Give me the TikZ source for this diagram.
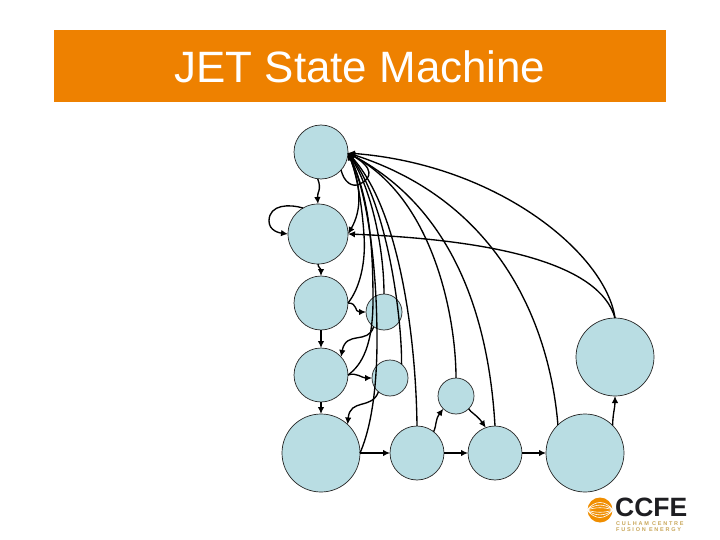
\documentclass[tikz,border=0pt]{standalone}
\usepackage{fontspec}
\setmainfont{Liberation Sans}
\usetikzlibrary{arrows.meta}
\definecolor{barorange}{HTML}{EE8100}
\definecolor{statefill}{HTML}{B9DDE3}
\definecolor{logotext}{HTML}{C9A75A}
\definecolor{logoink}{HTML}{1E1E22}
\tikzset{
  state/.style={circle,draw=black!85,fill=statefill,line width=0.7pt,inner sep=0pt,outer sep=0pt,minimum size=#1},
  edge/.style={draw=black,line width=1.35pt,-{Latex[length=7pt,width=6.5pt]}}
}
\begin{document}
\begin{tikzpicture}[x=1pt,y=-1pt]
\useasboundingbox (0,0) rectangle (720,540);
\fill[white] (0,0) rectangle (720,540);
\node[fill=barorange,minimum width=612pt,minimum height=72pt,inner sep=0pt,outer sep=0pt] (bar) at (360,66) {};
\node[text=white,font=\fontsize{43.9pt}{48pt}\selectfont,inner sep=0pt] (title) at (360,67) {JET State Machine};

\coordinate (hub) at (348,153);
\node[state=54pt] (A) at (321,152) {};
\node[state=60pt] (B) at (318,234) {};
\node[state=54pt] (C) at (321,303) {};
\node[state=54pt] (D) at (321,375) {};
\node[state=78pt] (E) at (321,453) {};
\node[state=36pt] (F) at (384,312) {};
\node[state=36pt] (G) at (390,378) {};
\node[state=36pt] (H) at (456,396) {};
\node[state=54pt] (I) at (417,453) {};
\node[state=54pt] (J) at (495,453) {};
\node[state=78pt] (K) at (585,453) {};
\node[state=78pt] (L) at (615,357) {};

% chain
\draw[edge] (A.-97) .. controls (322,190) and (317,192) .. (B.north);
\draw[edge] (B.south) .. controls (318,268) and (321,268) .. (C.north);
\draw[edge] (C.south) -- (D.north);
\draw[edge] (D.south) -- (E.north);
\draw[edge] (E.east) -- (I.west);
\draw[edge] (I.east) -- (J.west);
\draw[edge] (J.east) -- (K.west);
\draw[edge] (K.45) .. controls (613,412) and (615,408) .. (L.south);

% self loops
\draw[edge] (B.120) .. controls (290,204) and (269,204) .. (269,221) .. controls (269,231) and (280,233) .. (B.west);
\draw[edge] (A.-42) .. controls (344,182) and (352,188) .. (360,184) .. controls (372,178) and (374,168) .. (hub);

% into the top state
\draw[edge] (L.north) .. controls (606,255) and (500,165) .. (hub);
\draw[edge] (K.134) .. controls (551,340) and (510,205) .. (hub);
\draw[edge] (J.north) .. controls (490,340) and (465,215) .. (hub);
\draw[edge] (H.north) .. controls (456,320) and (435,200) .. (hub);
\draw[edge] (I.north) .. controls (416,340) and (400,210) .. (hub);
\draw[edge] (G.50) .. controls (402,320) and (388,205) .. (hub);
\draw[edge] (F.north) .. controls (384,250) and (372,190) .. (hub);
\draw[edge] (D.east) .. controls (362,365) and (373,345) .. (373,300) .. controls (373,240) and (368,195) .. (hub);
\draw[edge] (E.east) .. controls (368,435) and (377,400) .. (377,340) .. controls (377,260) and (366,190) .. (hub);
\draw[edge] (C.east) .. controls (360,288) and (366,262) .. (364,235) .. controls (362,205) and (357,175) .. (hub);

% other curves
\draw[edge] (hub) .. controls (362,185) and (362,210) .. (B.east);
\draw[edge] (L.north) .. controls (600,265) and (500,240) .. (B.east);
\draw[edge] (C.east) .. controls (358,303) and (354,312) .. (F.west);
\draw[edge] (D.east) .. controls (356,372) and (362,378) .. (G.west);
\draw[edge] (F.-125) .. controls (368,345) and (346,330) .. (D.42);
\draw[edge] (G.-130) .. controls (372,410) and (350,398) .. (E.47);
\draw[edge] (I.52) .. controls (437,424) and (435,420) .. (H.-135);
\draw[edge] (H.-45) .. controls (470,412) and (477,415) .. (J.110);

% logo
\fill[barorange!90!yellow] (600,510) circle (12.5pt);
\foreach \r in {3,6.5,10}{\draw[white,line width=0.6pt] (587,510) .. controls (595,{510-\r}) and (605,{510-\r}) .. (613,510);
\draw[white,line width=0.6pt] (587,510) .. controls (595,{510+\r}) and (605,{510+\r}) .. (613,510);}
\node[text=logoink,font=\fontsize{26.5pt}{26.5pt}\bfseries\selectfont,inner sep=0pt,anchor=west] (ccfe) at (615,507) {CCFE};
\node[text=logotext,font=\fontsize{5.5pt}{6.6pt}\bfseries\selectfont,inner sep=0pt,anchor=north west,align=left] (sub) at (616,521) {\addfontfeature{LetterSpace=32}CULHAM CENTRE\\\addfontfeature{LetterSpace=32}FUSION ENERGY};
\end{tikzpicture}
\end{document}
